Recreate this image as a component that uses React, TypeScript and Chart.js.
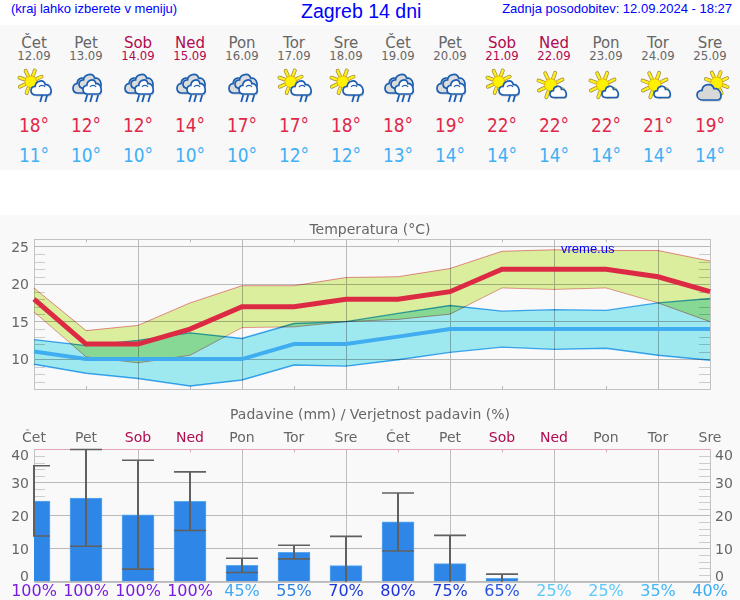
import React, { useEffect, useRef } from "react";
import { Chart, registerables } from "chart.js";

Chart.register(...registerables);

const days = ["Čet", "Pet", "Sob", "Ned", "Pon", "Tor", "Sre", "Čet", "Pet", "Sob", "Ned", "Pon", "Tor", "Sre"];
const dates = ["12.09", "13.09", "14.09", "15.09", "16.09", "17.09", "18.09", "19.09", "20.09", "21.09", "22.09", "23.09", "24.09", "25.09"];
const icons = ["A", "B", "B", "B", "B", "A", "A", "B", "B", "A", "C", "C", "C", "D"];
const tempMax = [18, 12, 12, 14, 17, 17, 18, 18, 19, 22, 22, 22, 21, 19];
const tempMin = [11, 10, 10, 10, 10, 12, 12, 13, 14, 14, 14, 14, 14, 14];
const maxUpper = [19.5, 13.8, 14.5, 17.5, 19.8, 19.8, 20.9, 21.0, 22.1, 24.4, 24.6, 24.5, 24.5, 23.1];
const maxLower = [16.3, 10.3, 9.5, 10.5, 14.2, 14.3, 15.0, 15.3, 16.0, 19.5, 19.3, 19.5, 17.5, 15.0];
const minUpper = [12.6, 11.8, 12.5, 13.5, 12.75, 14.75, 15.0, 16.1, 17.15, 16.4, 16.6, 16.5, 17.5, 18.1];
const minLower = [9.3, 8.1, 7.4, 6.4, 7.2, 9.2, 9.05, 9.9, 10.9, 11.6, 11.3, 11.45, 10.5, 9.85];
const rain = [24.4, 25.25, 20.2, 24.3, 4.95, 8.9, 4.85, 18.1, 5.45, 1.0, 0, 0, 0, 0];
const rainHigh = [35.05, 40, 36.7, 33.2, 7.1, 11.0, 13.7, 26.8, 14.0, 2.3, 0, 0, 0, 0];
const rainLow = [13.8, 10.7, 3.8, 15.5, 2.8, 6.9, 0, 9.3, 0, 0, 0, 0, 0, 0];
const chance = [100, 100, 100, 100, 45, 55, 70, 80, 75, 65, 25, 25, 35, 40];
const chanceColors = ["#7a1de2", "#7a1de2", "#7a1de2", "#7a1de2", "#3fa9f5", "#2b7fe6", "#1b39d8", "#1b2fdc", "#1b39d8", "#2a55e0", "#5cc8fa", "#5cc8fa", "#3db8f8", "#3aaaf2"];
const tempTicks = [10, 15, 20, 25];
const rainTicks = [0, 10, 20, 30, 40];

const FONT = "'DejaVu Sans'";
const GREY = "#666666";
const WEEKEND = "#b00a50";
const GRID = "#b9b9b9";
const MINOR = "#cccccc";
const FRAME = "#c2c2c2";
const PINK = "#e5a3bd";
const dayColor = (i: number) => (i % 7 === 2 || i % 7 === 3 ? WEEKEND : GREY);
const colX = (i: number) => 34 + 52 * i;

function line(ctx: CanvasRenderingContext2D, x1: number, y1: number, x2: number, y2: number, color: string, w = 1) {
  ctx.save();
  ctx.strokeStyle = color;
  ctx.lineWidth = w;
  ctx.beginPath();
  ctx.moveTo(x1, y1);
  ctx.lineTo(x2, y2);
  ctx.stroke();
  ctx.restore();
}

const snap = (v: number) => Math.round(v) + 0.5;

const tempPlugin = {
  id: "tempFurniture",
  beforeDatasetsDraw(chart: any) {
    const { ctx, chartArea: a, scales } = chart;
    for (let v = 7; v < 26; v++) {
      if (v % 5 === 0) continue;
      const y = snap(scales.y.getPixelForValue(v));
      line(ctx, a.left, y, a.left + 11, y, MINOR);
      line(ctx, a.right - 11, y, a.right, y, MINOR);
    }
    days.forEach((_, i) => {
      if (i % 2 === 1 && i < 13) {
        const x = snap(scales.x.getPixelForValue(i));
        line(ctx, x, a.top, x, a.top + 3, GRID);
        line(ctx, x, a.bottom - 3, x, a.bottom, GRID);
      }
    });
    ctx.save();
    ctx.strokeStyle = FRAME;
    ctx.strokeRect(snap(a.left), snap(a.top), Math.round(a.right - a.left), Math.round(a.bottom - a.top));
    ctx.restore();
    ctx.globalCompositeOperation = "multiply";
  },
  afterDatasetDraw(chart: any, args: any) {
    if (args.index === 2) chart.ctx.globalCompositeOperation = "source-over";
  },
};

const rainPlugin = {
  id: "rainFurniture",
  beforeDatasetsDraw(chart: any) {
    const { ctx, chartArea: a, scales } = chart;
    for (let v = 2; v < 40; v += 2) {
      if (v % 10 === 0) continue;
      const y = snap(scales.y.getPixelForValue(v));
      line(ctx, a.left, y, a.left + 11, y, MINOR);
      line(ctx, a.right - 11, y, a.right, y, MINOR);
    }
    days.forEach((_, i) => {
      if (i % 2 === 1 && i < 13) {
        const x = snap(scales.x.getPixelForValue(i));
        line(ctx, x, a.top, x, a.top + 3, PINK);
      }
    });
    const t = snap(a.top);
    const b = snap(a.bottom);
    line(ctx, snap(a.left), t, snap(a.left), b, FRAME);
    line(ctx, snap(a.right), t, snap(a.right), b, FRAME);
    line(ctx, snap(a.left), b, snap(a.right), b, FRAME);
    line(ctx, snap(a.left), t, snap(a.right), t, PINK);
  },
  afterDatasetsDraw(chart: any) {
    const { ctx, chartArea: a, scales } = chart;
    ctx.save();
    ctx.beginPath();
    ctx.rect(a.left - 1, a.top - 1, a.right - a.left + 2, a.bottom - a.top + 2);
    ctx.clip();
    const stroke = "#606060";
    rain.forEach((_, i) => {
      if (rainHigh[i] <= 0) return;
      const x = scales.x.getPixelForValue(i);
      const hi = scales.y.getPixelForValue(rainHigh[i]);
      const lo = scales.y.getPixelForValue(rainLow[i]);
      line(ctx, x, hi, x, lo, stroke, 2);
      line(ctx, x - 16, hi, x + 16, hi, stroke, 1.6);
      if (rainLow[i] > 0) line(ctx, x - 16, lo, x + 16, lo, stroke, 1.6);
    });
    ctx.restore();
    ctx.save();
    ctx.font = `14px ${FONT}`;
    ctx.fillStyle = GREY;
    ctx.textBaseline = "middle";
    rainTicks.forEach((v) => {
      const y = Math.min(Math.max(scales.y.getPixelForValue(v) + 2, a.top + 7), a.bottom - 4);
      ctx.textAlign = "right";
      ctx.fillText(String(v), a.left - 5, y);
      ctx.textAlign = "left";
      ctx.fillText(String(v), a.right + 5, y);
    });
    ctx.restore();
  },
};

const hiddenRight = {
  position: "right",
  afterFit: (s: any) => { s.width = 30; },
  border: { display: false },
  grid: { display: false, drawTicks: false },
  ticks: { display: false },
};

function TempChart() {
  const ref = useRef<HTMLCanvasElement>(null);
  useEffect(() => {
    const thin = { pointRadius: 0, tension: 0 };
    const chart = new Chart(ref.current!, {
      type: "line",
      data: {
        labels: days,
        datasets: [
          { data: tempMax, borderColor: "#dc2a44", borderWidth: 5, ...thin, fill: false },
          { data: tempMin, borderColor: "#3fadf0", borderWidth: 4, ...thin, fill: false },
          { data: minUpper, borderColor: "#3fa8f2", borderWidth: 1.4, backgroundColor: "#9ee8f0", ...thin, fill: "+1" },
          { data: minLower, borderColor: "#3fa8f2", borderWidth: 1.4, ...thin, fill: false },
          { data: maxUpper, borderColor: "#ee8a94", borderWidth: 1, backgroundColor: "#dbee9e", ...thin, fill: "+1" },
          { data: maxLower, borderColor: "#ee9aa4", borderWidth: 1, ...thin, fill: false },
        ],
      },
      options: {
        responsive: false,
        animation: false,
        plugins: {
          legend: { display: false },
          tooltip: { enabled: false },
          title: {
            display: true,
            text: "Temperatura (°C)",
            color: GREY,
            font: { family: FONT, size: 14, weight: "normal", lineHeight: 1.2 },
            padding: { top: 7.3, bottom: 0.2 },
          },
        },
        scales: {
          x: {
            afterFit: (s: any) => { s.height = 11; },
            border: { display: false },
            ticks: { display: false, autoSkip: false, maxRotation: 0 },
            grid: { drawTicks: false, color: (c: any) => (c.index % 2 === 0 ? GRID : "rgba(0,0,0,0)") },
          },
          y: {
            min: 6,
            max: 26,
            afterBuildTicks: (s: any) => { s.ticks = tempTicks.map((value) => ({ value })); },
            afterFit: (s: any) => { s.width = 34; },
            border: { display: false },
            grid: { drawTicks: false, color: GRID },
            ticks: { color: GREY, font: { family: FONT, size: 14, lineHeight: 0.6 }, padding: 5, labelOffset: 1.5 },
          },
          yRight: { ...hiddenRight, min: 6, max: 26 },
        },
      },
      plugins: [tempPlugin],
    } as any);
    return () => chart.destroy();
  }, []);
  return <canvas ref={ref} width={740} height={185} style={{ position: "absolute", left: 0, top: 215, width: 740, height: 185 }} />;
}

function RainChart() {
  const ref = useRef<HTMLCanvasElement>(null);
  useEffect(() => {
    const chart = new Chart(ref.current!, {
      type: "bar",
      data: {
        labels: chance.map((c) => `${c}%`),
        datasets: [
          { data: rain, backgroundColor: "#2e86e6", borderColor: "#5aa8f0", borderWidth: 1, barThickness: 32 },
        ],
      },
      options: {
        responsive: false,
        animation: false,
        plugins: {
          legend: { display: false },
          tooltip: { enabled: false },
          title: {
            display: true,
            text: "Padavine (mm) / Verjetnost padavin (%)",
            color: GREY,
            font: { family: FONT, size: 14, weight: "normal", lineHeight: 1.2 },
            padding: { top: 7.2, bottom: 5.4 },
          },
        },
        scales: {
          x: {
            offset: false,
            afterFit: (s: any) => { s.height = 18.3; },
            border: { display: false },
            grid: { offset: false, drawTicks: false, color: (c: any) => (c.index % 2 === 0 ? "#c4bcc4" : "rgba(0,0,0,0)") },
            ticks: {
              autoSkip: false,
              maxRotation: 0,
              padding: 1,
              font: { family: FONT, size: 16 },
              color: (c: any) => chanceColors[c.index],
            },
          },
          x2: {
            type: "category",
            position: "top",
            labels: days,
            offset: false,
            afterFit: (s: any) => { s.height = 20; },
            border: { display: false },
            grid: { display: false, drawTicks: false },
            ticks: {
              autoSkip: false,
              maxRotation: 0,
              padding: 3,
              font: { family: FONT, size: 14 },
              color: (c: any) => dayColor(c.index),
            },
          },
          y: {
            min: 0,
            max: 40,
            afterBuildTicks: (s: any) => { s.ticks = rainTicks.map((value) => ({ value })); },
            afterFit: (s: any) => { s.width = 34; },
            border: { display: false },
            grid: { drawTicks: false, color: GRID },
            ticks: { display: false },
          },
          yRight: { ...hiddenRight, min: 0, max: 40 },
        },
      },
      plugins: [rainPlugin],
    } as any);
    return () => chart.destroy();
  }, []);
  return <canvas ref={ref} width={740} height={200} style={{ position: "absolute", left: 0, top: 400, width: 740, height: 200 }} />;
}

function cloud(x: number, y: number, w: number, h: number) {
  return `M${x + 0.22 * w} ${y + h}C${x - 0.06 * w} ${y + h} ${x - 0.08 * w} ${y + 0.42 * h} ${x + 0.2 * w} ${y + 0.42 * h}C${x + 0.22 * w} ${y + 0.02 * h} ${x + 0.62 * w} ${y - 0.08 * h} ${x + 0.68 * w} ${y + 0.32 * h}C${x + 0.96 * w} ${y + 0.22 * h} ${x + 1.08 * w} ${y + h} ${x + 0.8 * w} ${y + h}Z`;
}

function Cloud({ x, y, w, h, fill }: { x: number; y: number; w: number; h: number; fill: string }) {
  return (
    <g>
      <path d={cloud(x + 1, y + 1.5, w, h)} fill="#9a9a9a" opacity={0.55} />
      <path d={cloud(x, y, w, h)} fill={fill} stroke="#1c5fb2" strokeWidth={1.7} />
    </g>
  );
}

function Sun({ cx, cy, r, ray }: { cx: number; cy: number; r: number; ray: number }) {
  const angles = [0, 45, 90, 135, 180, 225, 270, 315].map((d) => ((d + 20) * Math.PI) / 180);
  return (
    <g>
      {angles.map((t, i) => (
        <line key={i} x1={cx + Math.cos(t) * (r + 1)} y1={cy + Math.sin(t) * (r + 1)} x2={cx + Math.cos(t) * ray} y2={cy + Math.sin(t) * ray} stroke="#9c8a3c" strokeWidth={3.8} strokeLinecap="round" />
      ))}
      {angles.map((t, i) => (
        <line key={"y" + i} x1={cx + Math.cos(t) * (r + 1)} y1={cy + Math.sin(t) * (r + 1)} x2={cx + Math.cos(t) * ray} y2={cy + Math.sin(t) * ray} stroke="#ffee20" strokeWidth={2.4} strokeLinecap="round" />
      ))}
      <circle cx={cx} cy={cy} r={r} fill="#fff200" stroke="#e6a800" strokeWidth={0.8} />
    </g>
  );
}

function Rain({ xs, y }: { xs: number[]; y: number }) {
  return (
    <g>
      {xs.map((x, i) => (
        <line key={i} x1={x + 1.2} y1={y} x2={x - 0.8} y2={y + 7} stroke="#1c5fb2" strokeWidth={1.8} />
      ))}
    </g>
  );
}

function Icon({ kind, cx }: { kind: string; cx: number }) {
  return (
    <svg width={52} height={40} viewBox="0 0 52 40" style={{ position: "absolute", left: cx - 26, top: 68 }}>
      {kind === "A" && (
        <g>
          <Sun cx={22.7} cy={13.7} r={5.8} ray={12} />
          <Cloud x={23} y={12} w={21} h={15} fill="#ffffff" />
          <path d="M31 19a3.5 3.5 0 0 1 6 0" fill="none" stroke="#1c5fb2" strokeWidth={1.2} />
          <Rain xs={[33, 38]} y={27} />
        </g>
      )}
      {kind === "B" && (
        <g>
          <Cloud x={13} y={9} w={20} h={16} fill="#dcdcdc" />
          <Cloud x={19} y={5.5} w={23} h={15} fill="#dcdcdc" />
          <Cloud x={23} y={11} w={19} h={15} fill="#ffffff" />
          <path d="M30 19a3.5 3.5 0 0 1 6 0" fill="none" stroke="#1c5fb2" strokeWidth={1.2} />
          <Rain xs={[26, 31, 37]} y={27} />
        </g>
      )}
      {kind === "C" && (
        <g>
          <Sun cx={22.7} cy={17} r={6.2} ray={13} />
          <Cloud x={22} y={17.5} w={17} h={12} fill="#ffffff" />
        </g>
      )}
      {kind === "D" && (
        <g>
          <Sun cx={32.7} cy={15} r={6} ray={11.5} />
          <Cloud x={13} y={15.5} w={25} h={16.5} fill="#d8d8d8" />
        </g>
      )}
    </svg>
  );
}

function Centered({ cx, y, size, color, text, squeeze = 1 }: { cx: number; y: number; size: number; color: string; text: string; squeeze?: number }) {
  return (
    <div style={{ position: "absolute", left: cx - 40, top: y - 15, width: 80, height: 30, lineHeight: "30px", textAlign: "center", fontSize: size, color, fontFamily: FONT, whiteSpace: "nowrap", transform: `scaleX(${squeeze})` }}>
      {text}
    </div>
  );
}

const headerText: React.CSSProperties = { position: "absolute", color: "#0000ff", fontFamily: "'Liberation Sans'", whiteSpace: "nowrap" };

export default function App() {
  useEffect(() => {
    document.body.style.margin = "0";
    document.body.style.background = "#ffffff";
  }, []);
  return (
    <div style={{ position: "relative", width: 740, height: 600, overflow: "hidden", background: "#ffffff" }}>
      <div style={{ ...headerText, left: 11, top: 0, fontSize: 13, lineHeight: "17px" }}>(kraj lahko izberete v meniju)</div>
      <div style={{ ...headerText, left: 301, top: 0, fontSize: 19.5, lineHeight: "22px" }}>Zagreb 14 dni</div>
      <div style={{ ...headerText, right: 8, top: 0, fontSize: 13, lineHeight: "17px" }}>Zadnja posodobitev: 12.09.2024 - 18:27</div>
      <div style={{ position: "absolute", left: 0, top: 25, width: 740, height: 145, background: "#f8f8f8" }} />
      <div style={{ position: "absolute", left: 0, top: 215, width: 740, height: 385, background: "#f9f9f9" }} />
      {days.map((d, i) => (
        <React.Fragment key={i}>
          <Centered cx={colX(i)} y={43} size={15} color={dayColor(i)} text={d} />
          <Centered cx={colX(i)} y={56} size={11.7} color={dayColor(i)} text={dates[i]} />
          <Icon kind={icons[i]} cx={colX(i)} />
          <Centered cx={colX(i)} y={125} size={20} squeeze={0.85} color="#e0284a" text={`${tempMax[i]}°`} />
          <Centered cx={colX(i)} y={155} size={20} squeeze={0.85} color="#3fb0f5" text={`${tempMin[i]}°`} />
        </React.Fragment>
      ))}
      <TempChart />
      <RainChart />
      <div style={{ ...headerText, left: 561, top: 241, fontSize: 13, lineHeight: "16px" }}>vreme.us</div>
    </div>
  );
}
